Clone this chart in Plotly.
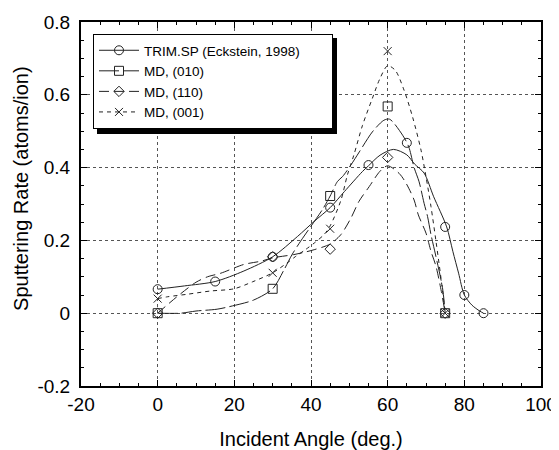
import plotly.graph_objects as go

# ---- measured points (markers) ----
trim_x = [0, 15, 30, 45, 55, 65, 75, 80, 85]
trim_y = [0.066, 0.087, 0.155, 0.29, 0.407, 0.468, 0.237, 0.05, 0.0]

md010_x = [0, 30, 45, 60, 75]
md010_y = [0.0, 0.067, 0.322, 0.568, 0.0]

md110_x = [0, 30, 45, 60, 75]
md110_y = [0.0, 0.155, 0.176, 0.428, 0.0]

md001_x = [0, 30, 45, 60, 75]
md001_y = [0.04, 0.111, 0.232, 0.72, 0.0]

# ---- smoothed curves ----
trim_curve_x = [0, 7, 15, 22.5, 30, 36.5, 40.8, 45, 48.7, 53.4, 55, 58, 61.5, 65, 67, 69.5, 72, 75.4, 77, 78.5, 80, 82, 84, 85]
trim_curve_y = [0.066, 0.075, 0.087, 0.116, 0.155, 0.211, 0.252, 0.29, 0.334, 0.389, 0.405, 0.434, 0.45, 0.435, 0.41, 0.385, 0.32, 0.237, 0.17, 0.11, 0.05, 0.022, 0.006, 0.0]

md010_curve_x = [0, 6, 10, 15.5, 19.5, 25, 30, 33, 35, 37.3, 40, 43, 45, 46.9, 48.2, 50.4, 52.6, 56, 59, 60.5, 63.9, 65.5, 66.9, 68.2, 69.5, 70.4, 71.3, 72.5, 74.3, 75]
md010_curve_y = [0.0, 0.0, 0.006, 0.011, 0.02, 0.036, 0.067, 0.12, 0.16, 0.198, 0.239, 0.285, 0.322, 0.362, 0.375, 0.407, 0.443, 0.498, 0.53, 0.533, 0.489, 0.457, 0.40, 0.361, 0.302, 0.266, 0.216, 0.16, 0.07, 0.0]

md110_curve_x = [0, 5, 10, 13, 16.5, 22.5, 27, 30, 35.5, 38.5, 41, 45, 47.8, 50.4, 52.5, 55.2, 58, 60, 63, 64.8, 66.9, 68, 70, 71.3, 72.6, 74, 75]
md110_curve_y = [0.0, 0.045, 0.085, 0.10, 0.11, 0.134, 0.143, 0.152, 0.161, 0.168, 0.175, 0.19, 0.216, 0.261, 0.307, 0.348, 0.39, 0.405, 0.384, 0.357, 0.311, 0.27, 0.22, 0.17, 0.129, 0.06, 0.0]

md001_curve_x = [0, 2.5, 7.7, 13.8, 19.9, 24.7, 30, 34, 36, 38.6, 41, 43.4, 45, 47.8, 49.5, 51.2, 53.4, 56, 58, 60, 62, 64.3, 66.5, 68.7, 70, 71.3, 72.6, 73.9, 75]
md001_curve_y = [0.04, 0.045, 0.052, 0.061, 0.067, 0.086, 0.111, 0.14, 0.156, 0.175, 0.194, 0.216, 0.24, 0.31, 0.38, 0.435, 0.515, 0.59, 0.645, 0.68, 0.667, 0.612, 0.539, 0.448, 0.375, 0.293, 0.198, 0.097, 0.0]

series_names = ["TRIM.SP (Eckstein, 1998)", "MD, (010)", "MD, (110)", "MD, (001)"]

x_tick_vals = [-20, 0, 20, 40, 60, 80, 100]
x_tick_text = ["-20", "0", "20", "40", "60", "80", "100"]
y_tick_vals = [-0.2, 0, 0.2, 0.4, 0.6, 0.8]
y_tick_text = ["-0.2", "0", "0.2", "0.4", "0.6", "0.8"]

INK = "#222222"
FONT = "Liberation Sans, Arial, sans-serif"

styles = [
    dict(dash="solid", symbol="circle-open", size=9),
    dict(dash="20px,4px", symbol="square-open", size=9),
    dict(dash="10px,5px", symbol="diamond-open", size=8),
    dict(dash="4px,4px", symbol="x-thin-open", size=8),
]

pts = [(trim_x, trim_y), (md010_x, md010_y), (md110_x, md110_y), (md001_x, md001_y)]
curves = [(trim_curve_x, trim_curve_y), (md010_curve_x, md010_curve_y),
          (md110_curve_x, md110_curve_y), (md001_curve_x, md001_curve_y)]

fig = go.Figure()
for name, st, (cx, cy) in zip(series_names, styles, curves):
    fig.add_trace(go.Scatter(x=cx, y=cy, mode="lines", line=dict(color=INK, width=1, dash=st["dash"], shape="spline", smoothing=0.8),
                             showlegend=False, hoverinfo="skip"))
for name, st, (px, py) in zip(series_names, styles, pts):
    fig.add_trace(go.Scatter(x=px, y=py, mode="markers", showlegend=False,
                             marker=dict(symbol=st["symbol"], size=st["size"], color=INK, line=dict(color=INK, width=1))))
# legend entries
for i, (name, st) in enumerate(zip(series_names, styles)):
    label = name + ("\u00a0" * 7 if i == 0 else "")
    fig.add_trace(go.Scatter(x=[None], y=[None], mode="lines+markers", name=label,
                             line=dict(color=INK, width=1, dash=st["dash"]),
                             marker=dict(symbol=st["symbol"], size=st["size"], color=INK, line=dict(color=INK, width=1))))

axis_common = dict(
    showline=True, linecolor="black", linewidth=2, mirror="ticks",
    ticks="inside", ticklen=6, tickwidth=1, tickcolor="black",
    showgrid=True, gridcolor="#555555", gridwidth=1, griddash="dot",
    zeroline=False, automargin=False, tickfont=dict(family=FONT, size=19, color="black"),
)

fig.update_xaxes(range=[-20, 100], tickmode="array", tickvals=x_tick_vals, ticktext=x_tick_text,
                 minor=dict(ticks="inside", ticklen=3, dtick=5, tick0=0, showgrid=False, tickcolor="black"),
                 title=dict(text="Incident Angle (deg.)", font=dict(family=FONT, size=20, color="black"), standoff=18),
                 **axis_common)
fig.update_yaxes(range=[-0.2, 0.8], tickmode="array", tickvals=y_tick_vals, ticktext=y_tick_text,
                 minor=dict(ticks="inside", ticklen=3, dtick=0.05, tick0=0, showgrid=False, tickcolor="black"),
                 ticklabelstandoff=5,
                 **axis_common)

fig.add_annotation(text="Sputtering Rate (atoms/ion)", textangle=-90, xref="paper", yref="paper",
                   x=-0.13, y=0.542, xanchor="center", yanchor="middle", showarrow=False,
                   font=dict(family=FONT, size=20, color="black"))

# drop shadow behind the legend box (plot area is 460 x 364 px)
fig.add_shape(type="rect", xref="paper", yref="paper", layer="above",
              x0=16 / 460, x1=256 / 460, y0=1 - 112 / 364, y1=1 - 16 / 364,
              fillcolor="black", line=dict(width=0))

fig.update_layout(
    width=551, height=442,
    margin=dict(l=73, r=18, t=14, b=64, autoexpand=False),
    paper_bgcolor="white", plot_bgcolor="white",
    font=dict(family=FONT, color="black"),
    legend=dict(x=12 / 460, y=1 - 12 / 364, xanchor="left", yanchor="top", itemwidth=40,
                bgcolor="white", bordercolor="black", borderwidth=1,
                font=dict(family=FONT, size=13.5, color="black"), tracegroupgap=0),
)

fig.write_html("out.html")
